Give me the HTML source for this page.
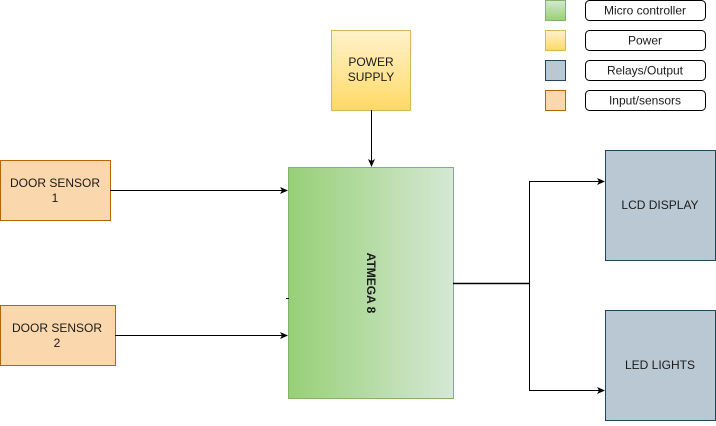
<!DOCTYPE html>
<html><head><meta charset="utf-8"><style>
html,body{margin:0;padding:0;background:#fff;}
body{width:716px;height:421px;overflow:hidden;font-family:"Liberation Sans",Arial,sans-serif;}
svg text{font-family:"Liberation Sans",Arial,sans-serif;font-size:12px;fill:#1a1a1a;}
</style></head><body>
<svg width="716" height="421" viewBox="0 0 716 421" xmlns="http://www.w3.org/2000/svg">
<defs>
<linearGradient id="g" x1="0" x2="1" y1="0" y2="0"><stop offset="0" stop-color="#97d077"/><stop offset="1" stop-color="#d5e8d4"/></linearGradient>
<linearGradient id="y" x1="0" x2="0" y1="0" y2="1"><stop offset="0" stop-color="#fff2cc"/><stop offset="1" stop-color="#ffd966"/></linearGradient>
<linearGradient id="gl" x1="0" x2="0" y1="0" y2="1"><stop offset="0" stop-color="#d5e8d4"/><stop offset="1" stop-color="#97d077"/></linearGradient>
<marker id="a" markerWidth="8" markerHeight="8" refX="7" refY="4" orient="auto" markerUnits="userSpaceOnUse"><path d="M0,0.5 L8,4 L0,7.5 L2,4 Z" fill="#000"/></marker>
</defs>
<rect x="545.5" y="0.5" width="20" height="20" fill="url(#gl)" stroke="#82b366"/>
<rect x="545.5" y="30.5" width="20" height="20" fill="url(#y)" stroke="#d6b656"/>
<rect x="545.5" y="60.5" width="20" height="20" fill="#bac8d3" stroke="#23445d"/>
<rect x="545.5" y="90.5" width="20" height="20" fill="#fad7ac" stroke="#b46504"/>
<rect x="585.5" y="0.5" width="120" height="20" rx="4" fill="#fff" stroke="#000"/>
<rect x="585.5" y="30.5" width="120" height="20" rx="4" fill="#fff" stroke="#000"/>
<rect x="585.5" y="60.5" width="120" height="20" rx="4" fill="#fff" stroke="#000"/>
<rect x="585.5" y="90.5" width="120" height="20" rx="4" fill="#fff" stroke="#000"/>
<text x="645" y="14.5" text-anchor="middle">Micro controller</text>
<text x="645" y="44.5" text-anchor="middle">Power</text>
<text x="645" y="74.5" text-anchor="middle">Relays/Output</text>
<text x="645" y="104.5" text-anchor="middle">Input/sensors</text>
<rect x="331.5" y="30.5" width="79" height="80" fill="url(#y)" stroke="#d6b656"/>
<text x="371" y="66" text-anchor="middle">POWER</text>
<text x="371" y="81" text-anchor="middle">SUPPLY</text>
<rect x="0.5" y="160.5" width="110" height="60" fill="#fad7ac" stroke="#b46504"/>
<text x="55" y="187" text-anchor="middle">DOOR SENSOR</text>
<text x="55" y="202" text-anchor="middle">1</text>
<rect x="0.5" y="305.5" width="115" height="60" fill="#fad7ac" stroke="#b46504"/>
<text x="57" y="332" text-anchor="middle">DOOR SENSOR</text>
<text x="57" y="347" text-anchor="middle">2</text>
<rect x="288.5" y="167.5" width="165" height="231" fill="url(#g)" stroke="#82b366"/>
<text transform="translate(367,283) rotate(90)" text-anchor="middle" style="font-weight:bold;font-size:12px">ATMEGA 8</text>
<rect x="605.5" y="150.5" width="110" height="110" fill="#bac8d3" stroke="#23445d"/>
<text x="660" y="209" text-anchor="middle">LCD DISPLAY</text>
<rect x="605.5" y="310.5" width="110" height="110" fill="#bac8d3" stroke="#23445d"/>
<text x="660" y="369" text-anchor="middle">LED LIGHTS</text>
<g stroke="#000" fill="none" stroke-width="1">
<line x1="110" y1="190.5" x2="287" y2="190.5" marker-end="url(#a)"/>
<line x1="115" y1="335.5" x2="287" y2="335.5" marker-end="url(#a)"/>
<line x1="371.5" y1="110" x2="371.5" y2="166" marker-end="url(#a)"/>
<line x1="453" y1="283.5" x2="529" y2="283.5" stroke-width="1.5"/>
<line x1="529.5" y1="181" x2="529.5" y2="391"/>
<line x1="529.5" y1="181.5" x2="604" y2="181.5" marker-end="url(#a)"/>
<line x1="529.5" y1="390.5" x2="604" y2="390.5" marker-end="url(#a)"/>
<line x1="286" y1="298.5" x2="289" y2="298.5"/>
</g>
</svg>
</body></html>
